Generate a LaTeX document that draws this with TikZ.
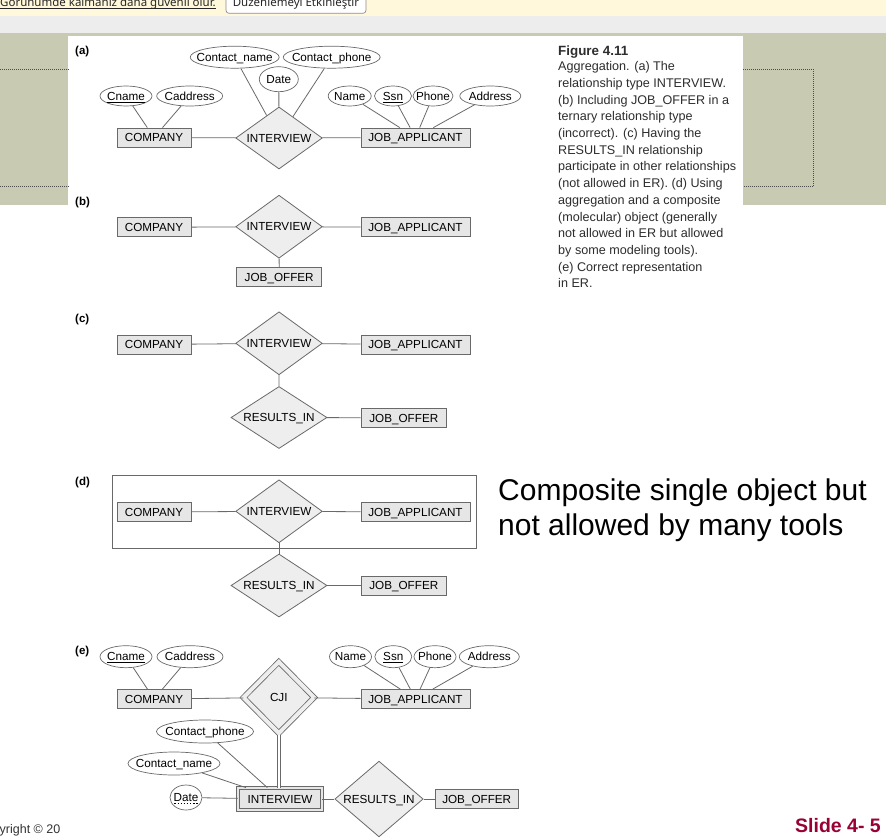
\documentclass[tikz,border=0pt]{standalone}
\usepackage{fontspec}
\setmainfont{Liberation Sans}
\newfontfamily\uifont{Noto Sans}
\usetikzlibrary{shapes.geometric,positioning}
\definecolor{barbg}{RGB}{255,248,219}
\definecolor{tabbg}{RGB}{237,237,237}
\definecolor{olive}{RGB}{200,203,177}
\definecolor{erline}{RGB}{105,105,105}
\definecolor{entfill}{RGB}{230,230,230}
\definecolor{relfill}{RGB}{238,238,238}
\definecolor{capink}{RGB}{45,45,45}
\definecolor{slidered}{RGB}{153,0,51}
\newcommand{\dashund}[1]{\setbox0=\hbox{#1}\leavevmode\rlap{\raisebox{-2.2pt}{\hbox to \wd0{\xleaders\hbox to 3pt{\hss\rule{1.6pt}{0.5pt}\hss}\hfil}}}\box0}
\tikzset{
  ertext/.style={font=\fontsize{11.7}{14}\selectfont,inner sep=0pt,text height=8.4pt,text depth=0pt},
  ent/.style={ertext,rectangle,draw=erline,fill=entfill,line width=0.8pt,minimum height=19pt},
  rel/.style={ertext,diamond,aspect=1.6,draw=erline,fill=relfill,line width=0.8pt},
  attr/.style={ertext,ellipse,draw=erline,fill=white,line width=0.7pt,minimum height=20pt,
    execute at begin node={\hbox to 0pt\bgroup\hss},execute at end node={\hss\egroup}},
  link/.style={draw=erline,line width=0.8pt},
  partlbl/.style={font=\fontsize{11.5}{13}\selectfont\bfseries,anchor=base west,inner sep=0pt},
  dotline/.style={draw=black!70,line width=0.9pt,dash pattern=on 1pt off 1pt},
}
\begin{document}
\begin{tikzpicture}[x=1pt,y=-1pt]
  \useasboundingbox (0,0) rectangle (886,838);
  \fill[white] (0,0) rectangle (886,838);
  \fill[olive] (0,33) rectangle (886,205);
  \fill[white] (68.3,36) rectangle (743,205);
  \fill[barbg] (0,0) rectangle (886,15.6);
  \fill[tabbg] (0,15.6) rectangle (886,33);
  \draw[dotline] (0,69.3) -- (68.3,69.3) (0,186.7) -- (68.3,186.7);
  \draw[dotline] (743,69.3) -- (813.3,69.3) -- (813.3,186.7) -- (743,186.7);

  \begin{scope}
    \clip (0,0) rectangle (886,15.6);
    \node[anchor=base west,inner sep=0pt,font=\uifont\fontsize{11.5}{13}\selectfont,text=black!85] (viewmsg) at (0,6) {Görünümde kalmanız daha güvenli olur.};
    \draw[black!85,line width=0.6pt] ([yshift=-2pt]viewmsg.base west) -- ([yshift=-2pt]viewmsg.base east);
    \node[draw=black!45,fill=white,rounded corners=3pt,line width=0.7pt,minimum width=140pt,minimum height=20.6pt,
      text height=9pt,text depth=3pt,inner sep=0pt,font=\uifont\fontsize{11.5}{13}\selectfont,text=black!85] (editbtn) at (296,3) {Düzenlemeyi Etkinleştir};
  \end{scope}

  \node[partlbl] (la) at (75,54) {(a)};
  \node[partlbl] (lb) at (75,205.5) {(b)};
  \node[partlbl] (lc) at (75,322.5) {(c)};
  \node[partlbl] (ld) at (75,485) {(d)};
  \node[partlbl] (le) at (75,654) {(e)};

  \node[ent,minimum width=74pt] (compA) at (154,137.5) {COMPANY};
  \node[rel,minimum width=86.6pt,minimum height=62pt] (intA) at (279,138) {INTERVIEW};
  \node[ent,minimum width=109pt] (applA) at (415.5,137.5) {JOB\_APPLICANT};
  \node[attr,minimum width=52pt] (cnameA) at (126,96) {\underline{Cname}};
  \node[attr,minimum width=66pt] (caddrA) at (189.7,96) {Caddress};
  \node[attr,minimum width=89pt,minimum height=22pt] (cnA) at (234.7,57.2) {Contact\_name};
  \node[attr,minimum width=97pt,minimum height=22pt] (cpA) at (331.7,57.2) {Contact\_phone};
  \node[attr,minimum width=39pt,minimum height=25pt] (dateA) at (278.8,79.2) {Date};
  \node[attr,minimum width=43pt] (nameA) at (349.7,96) {Name};
  \node[attr,minimum width=37pt] (ssnA) at (393,96) {\underline{Ssn}};
  \node[attr,minimum width=40pt] (phoneA) at (433,96) {Phone};
  \node[attr,minimum width=61pt] (addrA) at (490.3,96) {Address};
  \draw[link] (compA) -- (intA) -- (applA);
  \foreach \a in {cnameA,caddrA} \draw[link] (\a) -- (compA);
  \foreach \a in {cnA,dateA,cpA} \draw[link] (\a) -- (intA);
  \foreach \a in {nameA,ssnA,phoneA,addrA} \draw[link] (\a) -- (applA);

  \node[ent,minimum width=74pt] (compB) at (154,227.3) {COMPANY};
  \node[rel,minimum width=86.6pt,minimum height=63pt] (intB) at (279,226.7) {INTERVIEW};
  \node[ent,minimum width=109pt] (applB) at (415.5,227.3) {JOB\_APPLICANT};
  \node[ent,minimum width=85pt] (offerB) at (279.2,277) {JOB\_OFFER};
  \draw[link] (compB) -- (intB) -- (applB);
  \draw[link] (intB) -- (offerB);

  \node[ent,minimum width=74pt] (compC) at (154,344.5) {COMPANY};
  \node[rel,minimum width=86.6pt,minimum height=63pt] (intC) at (279,343.3) {INTERVIEW};
  \node[ent,minimum width=109pt] (applC) at (415.5,344.5) {JOB\_APPLICANT};
  \node[rel,minimum width=96pt,minimum height=62pt] (resC) at (279,417.5) {RESULTS\_IN};
  \node[ent,minimum width=85.7pt] (offerC) at (403.8,417.8) {JOB\_OFFER};
  \draw[link] (compC) -- (intC) -- (applC);
  \draw[link] (intC) -- (resC) -- (offerC);

  \draw[erline,line width=0.8pt] (112,475) rectangle (476,548.5);
  \node[ent,minimum width=74pt] (compD) at (154,512) {COMPANY};
  \node[rel,minimum width=86.6pt,minimum height=63pt] (intD) at (279,511.3) {INTERVIEW};
  \node[ent,minimum width=109pt] (applD) at (415.5,512) {JOB\_APPLICANT};
  \node[rel,minimum width=96pt,minimum height=63pt] (resD) at (279,585.5) {RESULTS\_IN};
  \node[ent,minimum width=85.7pt] (offerD) at (403.8,585.5) {JOB\_OFFER};
  \draw[link] (compD) -- (intD) -- (applD);
  \draw[link] (intD) -- (resD) -- (offerD);

  \node[ent,minimum width=74pt] (compE) at (154,699) {COMPANY};
  \node[rel,minimum width=71pt,minimum height=71.6pt,double=relfill,double distance=4pt] (cjiE) at (278.8,697.5) {CJI};
  \node[ent,minimum width=109pt] (applE) at (415.5,699) {JOB\_APPLICANT};
  \node[attr,minimum width=52pt,minimum height=22pt] (cnameE) at (126,656.7) {\underline{Cname}};
  \node[attr,minimum width=66pt,minimum height=22pt] (caddrE) at (190,656.7) {Caddress};
  \node[attr,minimum width=42pt,minimum height=22pt] (nameE) at (350.5,656.7) {Name};
  \node[attr,minimum width=37pt,minimum height=22pt] (ssnE) at (393.3,656.7) {\underline{Ssn}};
  \node[attr,minimum width=42pt,minimum height=22pt] (phoneE) at (435,656.7) {Phone};
  \node[attr,minimum width=60pt,minimum height=22pt] (addrE) at (489.3,656.7) {Address};
  \node[ent,minimum width=83.7pt,minimum height=22pt,double=entfill,double distance=2.2pt] (intE) at (280,799) {INTERVIEW};
  \node[attr,minimum width=97pt,minimum height=23pt] (cpE) at (205,731.5) {Contact\_phone};
  \node[attr,minimum width=92pt,minimum height=23pt] (cnE) at (174,763.5) {Contact\_name};
  \node[attr,minimum width=32pt,minimum height=25pt] (dateE) at (186,797.5) {\dashund{Date}};
  \node[rel,minimum width=88.3pt,minimum height=75.7pt] (resE) at (379,799) {RESULTS\_IN};
  \node[ent,minimum width=83.3pt,minimum height=19pt] (offerE) at (476.7,799) {JOB\_OFFER};
  \draw[link] (compE) -- (cjiE) -- (applE);
  \foreach \a in {cnameE,caddrE} \draw[link] (\a) -- (compE);
  \foreach \a in {nameE,ssnE,phoneE,addrE} \draw[link] (\a) -- (applE);
  \foreach \a in {cpE,cnE,dateE} \draw[link] (\a) -- (intE);
  \draw[link,double=white,double distance=2.2pt,shorten <=1pt] (cjiE.south) -- (cjiE.south |- intE.north);
  \draw[link] (intE) -- (resE) -- (offerE);

  \node[font=\fontsize{13.4}{16}\selectfont\bfseries,text=capink,anchor=base west,inner sep=0pt] (figtitle) at (558,55) {Figure 4.11};
  \foreach \t [count=\i from 0] in {
    Aggregation. (a) The,
    relationship type INTERVIEW.,
    (b) Including JOB\_OFFER in a,
    ternary relationship type,
    (incorrect). (c) Having the,
    RESULTS\_IN relationship,
    participate in other relationships,
    (not allowed in ER). (d) Using,
    aggregation and a composite,
    (molecular) object (generally,
    not allowed in ER but allowed,
    by some modeling tools).,
    (e) Correct representation,
    in ER.}
  {
    \node[font=\fontsize{12.6}{15}\selectfont,text=capink,anchor=base west,inner sep=0pt] (cap\i) at (558,70.7+16.7*\i) {\t};
  }

  \node[font=\fontsize{30}{35}\selectfont,anchor=base west,inner sep=0pt] (note1) at (498,500) {Composite single object but};
  \node[font=\fontsize{30}{35}\selectfont,anchor=base west,inner sep=0pt] (note2) at (498,535) {not allowed by many tools};

  \begin{scope}
    \clip (0,800) rectangle (65.5,838);
    \node[anchor=base west,inner sep=0pt,font=\fontsize{12.5}{14}\selectfont,text=black!80] (copyr) at (-0.5,833) {yright © 20};
  \end{scope}
  \node[anchor=base west,inner sep=0pt,font=\fontsize{19.5}{22}\selectfont\bfseries,text=slidered] (slide) at (795,832) {Slide 4- 5};
\end{tikzpicture}
\end{document}
